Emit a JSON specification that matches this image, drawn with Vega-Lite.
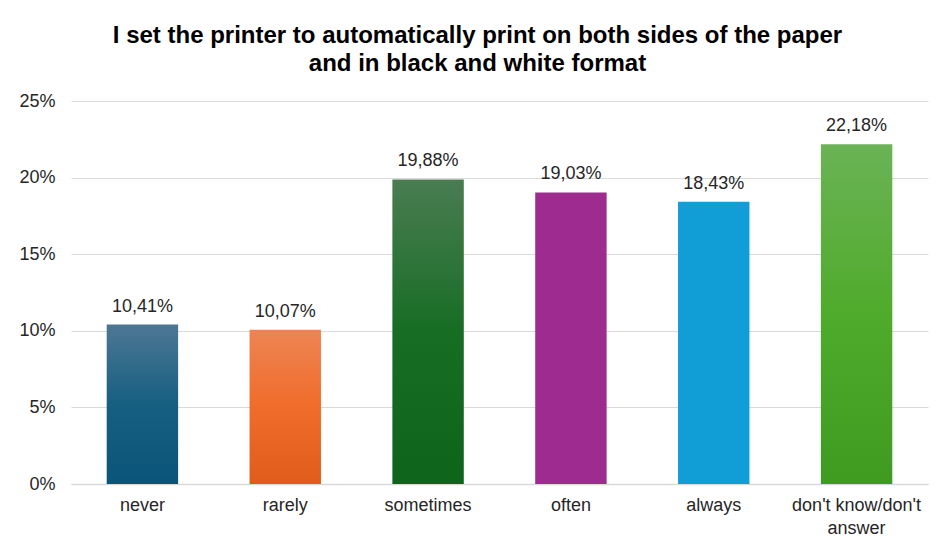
{
  "$schema": "https://vega.github.io/schema/vega-lite/v6.json",
  "autosize": {"type": "none"},
  "width": 857,
  "height": 383,
  "padding": {"left": 71, "top": 101, "right": 18, "bottom": 64},
  "background": "white",
  "title": {
    "text": ["I set the printer to automatically print on both sides of the paper", "and in black and white format"],
    "font": "Liberation Sans",
    "fontSize": 24,
    "fontWeight": "bold",
    "color": "#000000",
    "lineHeight": 28,
    "anchor": "middle",
    "offset": 16,
    "dx": -22
  },
  "config": {
    "locale": {"number": {"decimal": ",", "thousands": ".", "grouping": [3], "currency": ["", " €"]}},
    "view": {"stroke": null},
    "font": "Liberation Sans"
  },
  "data": {
    "values": [
      {"answer": "never", "share": 0.1041},
      {"answer": "rarely", "share": 0.1007},
      {"answer": "sometimes", "share": 0.1988},
      {"answer": "often", "share": 0.1903},
      {"answer": "always", "share": 0.1843},
      {"answer": "don't know/don't answer", "share": 0.2218}
    ]
  },
  "encoding": {
    "x": {
      "field": "answer",
      "type": "nominal",
      "sort": null,
      "scale": {"paddingInner": 0.5, "paddingOuter": 0.25},
      "axis": {
        "title": null,
        "labelAngle": 0,
        "labelFont": "Liberation Sans",
        "labelFontSize": 18,
        "labelColor": "#262626",
        "labelPadding": 12,
        "labelLineHeight": 23,
        "ticks": false,
        "domainColor": "#d9d9d9",
        "domainWidth": 1.5,
        "labelExpr": "datum.label == \"don't know/don't answer\" ? [\"don't know/don't\", \"answer\"] : datum.label"
      }
    },
    "y": {
      "field": "share",
      "type": "quantitative",
      "scale": {"domain": [0, 0.25]},
      "axis": {
        "title": null,
        "values": [0, 0.05, 0.1, 0.15, 0.2, 0.25],
        "format": ".0%",
        "labelFont": "Liberation Sans",
        "labelFontSize": 18,
        "labelColor": "#262626",
        "labelPadding": 16,
        "ticks": false,
        "domain": false,
        "gridColor": "#d9d9d9",
        "gridWidth": 1.2
      }
    }
  },
  "layer": [
    {
      "mark": {"type": "bar"},
      "encoding": {
        "color": {
          "condition": [
            {"test": "datum.answer == 'never'", "value": {"gradient": "linear", "x1": 0, "y1": 0, "x2": 0, "y2": 1, "stops": [{"offset": 0, "color": "#4d7794"}, {"offset": 0.5, "color": "#165f81"}, {"offset": 1, "color": "#0a5479"}]}},
            {"test": "datum.answer == 'rarely'", "value": {"gradient": "linear", "x1": 0, "y1": 0, "x2": 0, "y2": 1, "stops": [{"offset": 0, "color": "#ee8454"}, {"offset": 0.5, "color": "#f06c2a"}, {"offset": 1, "color": "#e05c1b"}]}},
            {"test": "datum.answer == 'sometimes'", "value": {"gradient": "linear", "x1": 0, "y1": 0, "x2": 0, "y2": 1, "stops": [{"offset": 0, "color": "#4a7c52"}, {"offset": 0.5, "color": "#176d24"}, {"offset": 1, "color": "#0f641c"}]}},
            {"test": "datum.answer == 'often'", "value": "#9e2b8f"},
            {"test": "datum.answer == 'always'", "value": "#119ed7"}
          ],
          "value": {"gradient": "linear", "x1": 0, "y1": 0, "x2": 0, "y2": 1, "stops": [{"offset": 0, "color": "#6bb356"}, {"offset": 0.5, "color": "#4fab2b"}, {"offset": 1, "color": "#3f9b20"}]}
        }
      }
    },
    {
      "mark": {"type": "text", "baseline": "bottom", "dy": -9, "font": "Liberation Sans", "fontSize": 18, "color": "#262626"},
      "encoding": {
        "text": {"field": "share", "type": "quantitative", "format": ".2%"}
      }
    }
  ]
}
